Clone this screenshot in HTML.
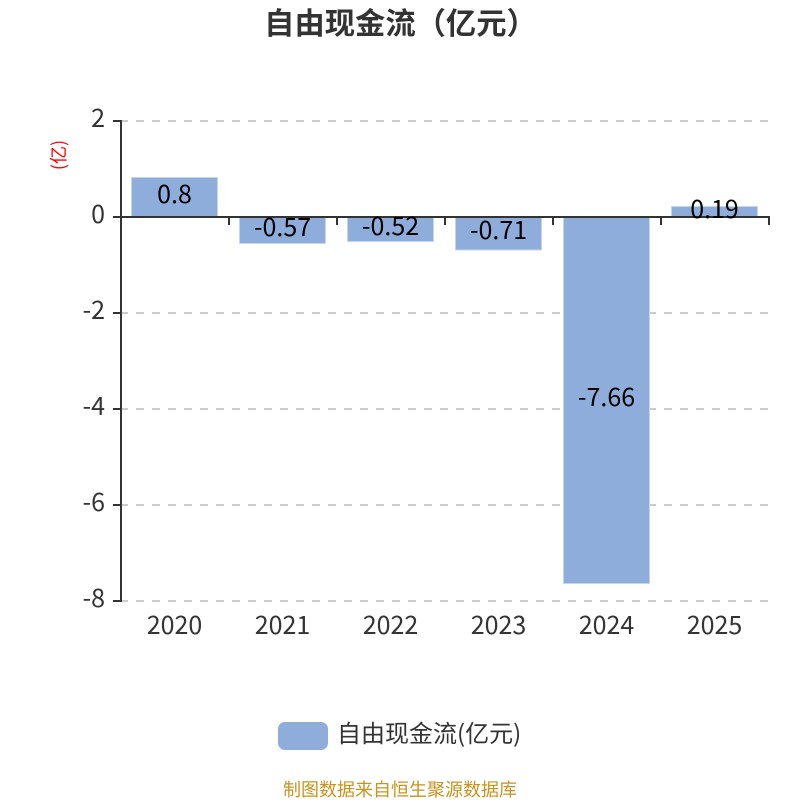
<!DOCTYPE html>
<html>
<head>
<meta charset="utf-8">
<style>
html,body{margin:0;padding:0;background:#fff;width:800px;height:800px;overflow:hidden}
svg{display:block}
text{font-family:"Noto Sans CJK SC","Liberation Sans",sans-serif}
</style>
</head>
<body>
<svg width="800" height="800" viewBox="0 0 800 800" xmlns="http://www.w3.org/2000/svg">
<rect width="800" height="800" fill="#fff"/>
<text x="400.500" y="34" text-anchor="middle" font-size="30.300" font-weight="700" fill="#333">自由现金流（亿元）</text>
<g stroke="#ccc" stroke-width="2" stroke-dasharray="8 8" fill="none">
<path d="M120 121H769"/><path d="M120 313H769"/><path d="M120 409H769"/><path d="M120 505H769"/><path d="M120 601H769"/>
</g>
<g fill="#8eaddb" stroke="#c5d5ee" stroke-width="1">
<rect x="131.500" y="177.500" width="86" height="39"/>
<rect x="239.500" y="217" width="86" height="26.500"/>
<rect x="347.500" y="217" width="86" height="24.500"/>
<rect x="455.500" y="217" width="86" height="33"/>
<rect x="563.500" y="217" width="86" height="366.500"/>
<rect x="671.500" y="206.500" width="86" height="10"/>
</g>
<g stroke="#333" stroke-width="2" fill="none">
<path d="M121 120V602"/>
<path d="M113 121H121M113 217H121M113 313H121M113 409H121M113 505H121M113 601H121"/>
<path d="M121 217H770"/>
<path d="M229 217V225M337 217V225M445 217V225M553 217V225M661 217V225M769 217V225"/>
</g>
<g font-size="25" fill="#333" text-anchor="end">
<text x="105" y="127">2</text>
<text x="105" y="223">0</text>
<text x="105" y="319">-2</text>
<text x="105" y="415">-4</text>
<text x="105" y="511">-6</text>
<text x="105" y="607">-8</text>
</g>
<g font-size="25" fill="#333" text-anchor="middle">
<text x="174.500" y="634">2020</text>
<text x="282.500" y="634">2021</text>
<text x="390.500" y="634">2022</text>
<text x="498.500" y="634">2023</text>
<text x="606.500" y="634">2024</text>
<text x="714.500" y="634">2025</text>
</g>
<g font-size="25" fill="#000" text-anchor="middle">
<text x="174.500" y="203">0.8</text>
<text x="282.500" y="236">-0.57</text>
<text x="390.500" y="235">-0.52</text>
<text x="498.500" y="239">-0.71</text>
<text x="606.500" y="406">-7.66</text>
<text x="714.500" y="218">0.19</text>
</g>
<text transform="translate(65 155) rotate(-90)" text-anchor="middle" font-size="18" fill="#f00">(亿)</text>
<rect x="278" y="722" width="50" height="28" rx="7" ry="7" fill="#8eaddb"/>
<text x="337" y="742" font-size="24" fill="#333">自由现金流(亿元)</text>
<text x="400" y="796" text-anchor="middle" font-size="18" fill="#c8931f">制图数据来自恒生聚源数据库</text>
</svg>
</body>
</html>
